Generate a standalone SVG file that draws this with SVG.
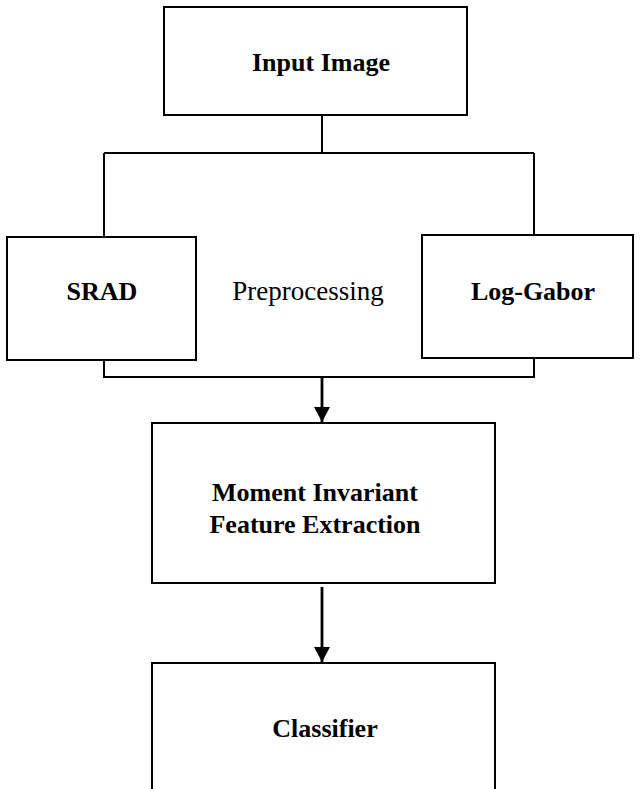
<svg xmlns="http://www.w3.org/2000/svg" width="641" height="789" viewBox="0 0 641 789">
<style>
.box{fill:#fff;stroke:#000;stroke-width:2}
.ln{fill:none;stroke:#000;stroke-width:2}
.ar{fill:none;stroke:#000;stroke-width:2.8}
.b{font-family:"Liberation Serif","Times New Roman",serif;font-weight:bold;font-size:26px;text-anchor:middle;fill:#000}
.n{font-family:"Liberation Serif","Times New Roman",serif;font-size:27px;text-anchor:middle;fill:#000}
</style>
<defs>
<marker id="ah" markerWidth="16" markerHeight="16" refX="15" refY="8" orient="auto" markerUnits="userSpaceOnUse">
<path d="M0,0 L15,8 L0,16 Z" fill="#000"/>
</marker>
</defs>
<g id="connectors">
<path class="ln" d="M322,115 V153"/>
<path class="ln" d="M104,153 H534"/>
<path class="ln" d="M104,153 V237"/>
<path class="ln" d="M534,153 V235"/>
<path class="ln" d="M104,360 V377 H534 V358"/>
<path class="ar" d="M322,377 V422" marker-end="url(#ah)"/>
<path class="ar" d="M322,587 V662" marker-end="url(#ah)"/>
</g>
<g id="input-image">
<rect class="box" x="164" y="7" width="303" height="108"/>
<text class="b" x="321" y="71">Input Image</text>
</g>
<g id="srad">
<rect class="box" x="7" y="237" width="189" height="123"/>
<text class="b" x="102" y="300">SRAD</text>
</g>
<g id="preprocessing">
<text class="n" x="308" y="300">Preprocessing</text>
</g>
<g id="log-gabor">
<rect class="box" x="422" y="235" width="211" height="123"/>
<text class="b" x="533" y="300">Log-Gabor</text>
</g>
<g id="feature-extraction">
<rect class="box" x="152" y="423" width="343" height="160"/>
<text class="b" x="315" y="501">Moment Invariant</text>
<text class="b" x="315" y="533">Feature Extraction</text>
</g>
<g id="classifier">
<path class="box" d="M152,795 V663 H495 V795"/>
<text class="b" x="325" y="737">Classifier</text>
</g>
</svg>
